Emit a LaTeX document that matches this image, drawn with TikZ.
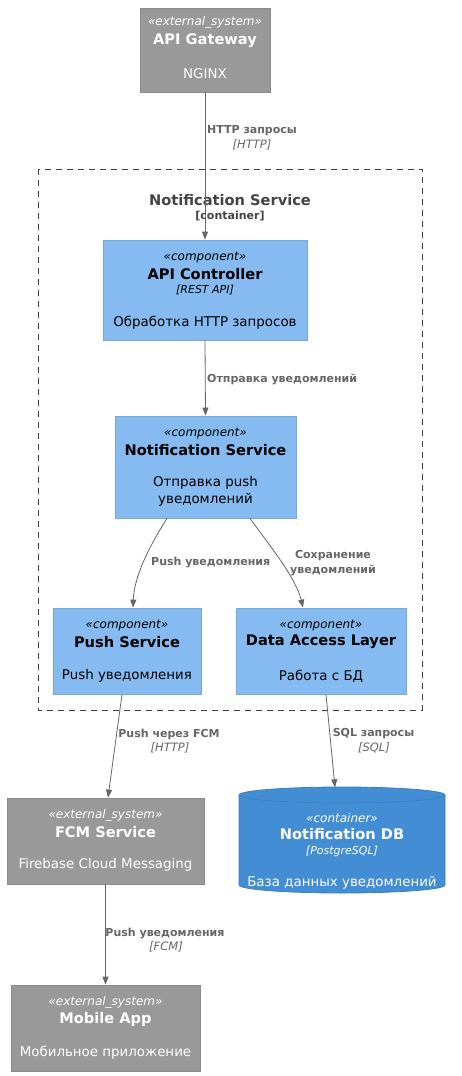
\documentclass[tikz,border=0pt]{standalone}
\usepackage{fontspec}
\setmainfont{DejaVu Sans}
\usetikzlibrary{arrows.meta}
\definecolor{extfill}{HTML}{999999}
\definecolor{extline}{HTML}{8A8A8A}
\definecolor{compfill}{HTML}{85BBF0}
\definecolor{compline}{HTML}{78A8D8}
\definecolor{dbfill}{HTML}{438DD5}
\definecolor{dbline}{HTML}{3C7FC0}
\definecolor{relcol}{HTML}{666666}
\definecolor{bndcol}{HTML}{444444}
\tikzset{
  box/.style={draw, inner sep=0pt, line width=0.8pt},
  extbox/.style={box, fill=extfill, draw=extline},
  compbox/.style={box, fill=compfill, draw=compline},
  stereo/.style={inner sep=0pt, font=\fontsize{12}{14}\selectfont\itshape},
  ttl/.style={inner sep=0pt, font=\fontsize{14.6}{17}\selectfont\bfseries},
  tech/.style={inner sep=0pt, font=\fontsize{11}{13}\selectfont\itshape},
  desc/.style={inner sep=0pt, font=\fontsize{13.4}{17}\selectfont, align=center},
  wtxt/.style={text=white},
  rel/.style={draw=relcol, line width=0.8pt, -{Triangle[length=8pt,width=6pt]}},
  rlab/.style={inner sep=0pt, text=relcol, font=\fontsize{11}{15}\selectfont\bfseries, align=center},
  rtech/.style={inner sep=0pt, text=relcol, font=\fontsize{11.5}{13}\selectfont\itshape},
}
\begin{document}
\begin{tikzpicture}[x=1pt,y=-1pt]
\useasboundingbox (0,0) rectangle (461,1076);
\fill[white] (0,0) rectangle (461,1076);

% boundary
\draw[bndcol, line width=0.7pt, dash pattern=on 6pt off 5pt] (38,169) rectangle (422,710);
\node[ttl, text=bndcol] (bt) at (230,200) {Notification Service};
\node[inner sep=0pt, text=bndcol, font=\fontsize{11}{13}\selectfont\bfseries] (bs) at (230,216) {[container]};

% API Gateway
\node[extbox, minimum width=130pt, minimum height=84pt] (gw) at (205,50) {};
\node[stereo, wtxt] at (205,22) {«external\_system»};
\node[ttl, wtxt] at (205,41) {API Gateway};
\node[desc, wtxt] at (205,74) {NGINX};

% API Controller
\node[compbox, minimum width=204pt, minimum height=100pt] (apic) at (205,290) {};
\node[stereo] at (205,258) {«component»};
\node[ttl] at (205,274) {API Controller};
\node[tech] at (205,290) {[REST API]};
\node[desc] at (205,323) {Обработка HTTP запросов};

% Notification Service component
\node[compbox, minimum width=181pt, minimum height=102pt] (ns) at (205.5,467) {};
\node[stereo] at (205.5,434) {«component»};
\node[ttl] at (205.5,450) {Notification Service};
\node[desc] at (205.5,491.5) {Отправка push\\уведомлений};

% Push Service
\node[compbox, minimum width=148pt, minimum height=86pt] (ps) at (127,651) {};
\node[stereo] at (127,626) {«component»};
\node[ttl] at (127,642) {Push Service};
\node[desc] at (127,676) {Push уведомления};

% Data Access Layer
\node[compbox, minimum width=170pt, minimum height=86pt] (dal) at (321,651) {};
\node[stereo] at (321,626) {«component»};
\node[ttl] at (321,642) {Data Access Layer};
\node[desc] at (321,676) {Работа с БД};

% FCM Service
\node[extbox, minimum width=197pt, minimum height=86pt] (fcm) at (105.5,841) {};
\node[stereo, wtxt] at (105.5,815) {«external\_system»};
\node[ttl, wtxt] at (105.5,832) {FCM Service};
\node[desc, wtxt] at (105.5,865) {Firebase Cloud Messaging};

% Mobile App
\node[extbox, minimum width=189pt, minimum height=86pt] (mob) at (105.5,1028) {};
\node[stereo, wtxt] at (105.5,1002) {«external\_system»};
\node[ttl, wtxt] at (105.5,1019) {Mobile App};
\node[desc, wtxt] at (105.5,1053) {Мобильное приложение};

% Notification DB (cylinder)
\node[inner sep=0pt, minimum width=206pt, minimum height=106pt] (db) at (342,840) {};
\filldraw[fill=dbfill, draw=dbline, line width=0.8pt]
  (239,795) -- (239,885) arc[start angle=180, end angle=0, x radius=103, y radius=8]
  -- (445,795) arc[start angle=0, end angle=-180, x radius=103, y radius=8] -- cycle;
\draw[dbline, line width=0.6pt] (239,795) arc[start angle=180, end angle=0, x radius=103, y radius=8];
\node[stereo, wtxt] at (342,818) {«container»};
\node[ttl, wtxt] at (342,834) {Notification DB};
\node[tech, wtxt] at (342,851) {[PostgreSQL]};
\node[desc, wtxt] at (342,883) {База данных уведомлений};

% relations
\draw[rel] (gw.south) -- (apic.north);
\node[rlab, anchor=west] at (207,131) {HTTP запросы};
\node[rtech] at (252,145) {[HTTP]};

\draw[rel] (apic.south) -- (ns.north);
\node[rlab, anchor=west] at (207,379) {Отправка уведомлений};

\draw[rel] ([xshift=-38.5pt]ns.south) .. controls (148,548) and (134,578) .. ([xshift=6pt]ps.north);
\node[rlab, anchor=west] at (151,563) {Push уведомления};

\draw[rel] ([xshift=44.5pt]ns.south) .. controls (270,546) and (296,578) .. ([xshift=-18pt]dal.north);
\node[rlab] at (333,563.5) {Сохранение\\уведомлений};

\draw[rel] ([xshift=-5pt]ps.south) -- ([xshift=2.5pt]fcm.north);
\node[rlab] at (169,734) {Push через FCM};
\node[rtech] at (170,748) {[HTTP]};

\draw[rel] ([xshift=5pt]dal.south) -- ([xshift=-7pt,yshift=-0.5pt]db.north);
\node[rlab] at (373.5,734) {SQL запросы};
\node[rtech] at (374,748) {[SQL]};

\draw[rel] (fcm.south) -- (mob.north);
\node[rlab] at (165,933) {Push уведомления};
\node[rtech] at (166,947) {[FCM]};
\end{tikzpicture}
\end{document}
